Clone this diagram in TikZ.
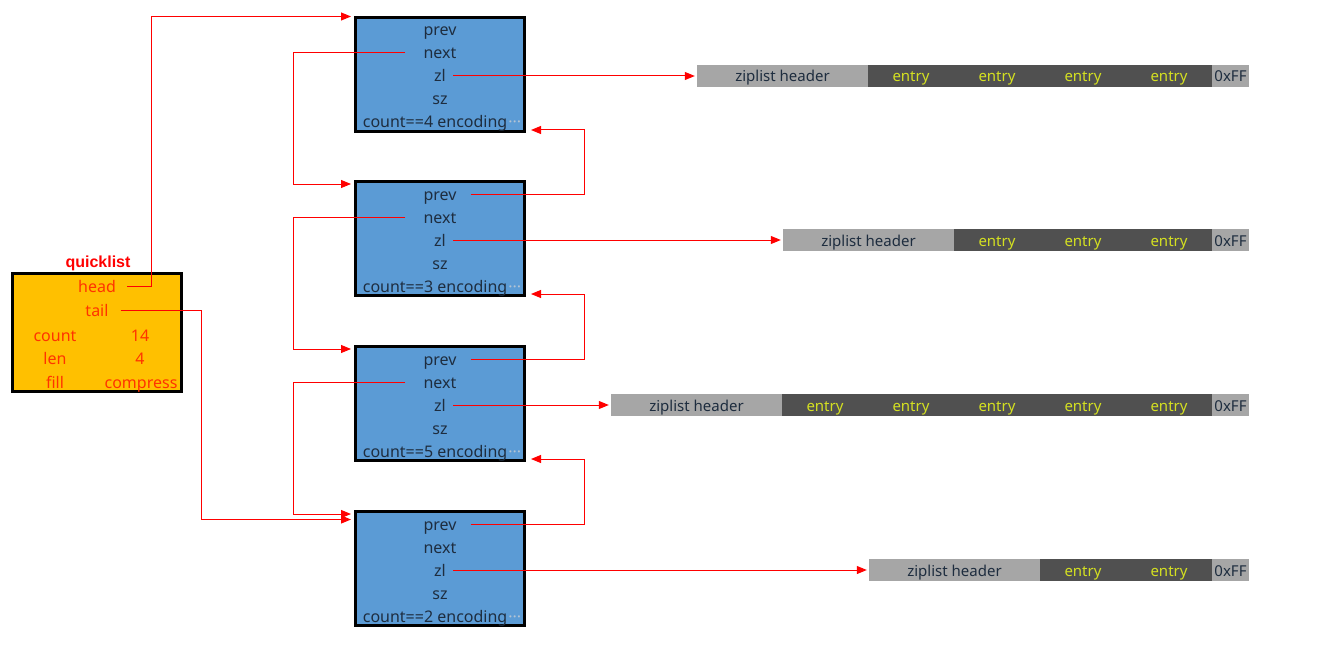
\documentclass[tikz,border=0pt]{standalone}
\usepackage{fontspec}
\setmainfont{Noto Sans}
\newfontfamily\titlefont{Liberation Sans}
\usetikzlibrary{arrows.meta}

\definecolor{nodeblue}{HTML}{5B9BD5}
\definecolor{qlorange}{HTML}{FFC000}
\definecolor{qltext}{HTML}{FF3300}
\definecolor{hdrgray}{HTML}{A6A6A6}
\definecolor{entgray}{HTML}{505050}
\definecolor{entyellow}{HTML}{D4E021}
\definecolor{rowtext}{HTML}{1E2D3F}
\definecolor{dotgray}{HTML}{B4C4D4}

\tikzset{
  qlbox/.style={draw=black, fill=qlorange, line width=3pt, minimum width=169pt, minimum height=118pt, inner sep=0pt},
  qltitle/.style={text=red, font=\titlefont\fontsize{16}{19}\selectfont\bfseries, inner sep=0pt},
  qlrow/.style={text=qltext, font=\fontsize{16}{19}\selectfont, text height=14pt, text depth=2pt, inner sep=0pt},
  box/.style={draw=black, fill=nodeblue, line width=3pt, minimum width=169pt, minimum height=114pt, inner sep=0pt},
  row/.style={text=rowtext, font=\fontsize{16}{19}\selectfont, text height=14pt, text depth=2pt, inner sep=0pt},
  bar/.style={minimum height=22pt, inner sep=0pt, font=\fontsize{15}{18}\selectfont, text height=13.5pt, text depth=1.5pt},
  hdr/.style={bar, fill=hdrgray, minimum width=171pt, text=rowtext},
  ent/.style={bar, fill=entgray, minimum width=86pt, text=entyellow},
  endb/.style={bar, fill=hdrgray, minimum width=37pt, text=rowtext},
  link/.style={draw=red, line width=1pt, -{Triangle[length=10pt,width=8pt]}}
}
\newcommand{\moredots}{\textcolor{dotgray}{\kern1pt···}}

\begin{document}
\begin{tikzpicture}[x=1pt,y=-1pt]
\useasboundingbox (0,0) rectangle (1317,650);

% quicklist header
\node[qlbox] (ql) at (97,332.5) {};
\node[qltitle] (qltitle) at (98,263) {quicklist};
\node[qlrow] (qhead) at (97,286) {head};
\node[qlrow] (qtail) at (97,310) {tail};
\node[qlrow] (qcount) at (55,335) {count};
\node[qlrow] (qcountv) at (140,335) {14};
\node[qlrow] (qlen) at (55,358) {len};
\node[qlrow] (qlenv) at (140,358) {4};
\node[qlrow] (qfill) at (55,382) {fill};
\node[qlrow] (qfillv) at (141,382) {compress};

% quicklistNode 1
\node[box] (n1) at (440,74.5) {};
\node[row] (n1prev) at (440,30) {prev};
\node[row] (n1next) at (440,53) {next};
\node[row] (n1zl) at (440,76) {zl};
\node[row] (n1sz) at (440,99) {sz};
\node[row] (n1cnt) at (442,122) {count==4 encoding\moredots};

% quicklistNode 2
\node[box] (n2) at (440,238.5) {};
\node[row] (n2prev) at (440,194) {prev};
\node[row] (n2next) at (440,217) {next};
\node[row] (n2zl) at (440,240) {zl};
\node[row] (n2sz) at (440,263) {sz};
\node[row] (n2cnt) at (442,286) {count==3 encoding\moredots};

% quicklistNode 3
\node[box] (n3) at (440,403.5) {};
\node[row] (n3prev) at (440,359) {prev};
\node[row] (n3next) at (440,382) {next};
\node[row] (n3zl) at (440,405) {zl};
\node[row] (n3sz) at (440,428) {sz};
\node[row] (n3cnt) at (442,451) {count==5 encoding\moredots};

% quicklistNode 4
\node[box] (n4) at (440,568.5) {};
\node[row] (n4prev) at (440,524) {prev};
\node[row] (n4next) at (440,547) {next};
\node[row] (n4zl) at (440,570) {zl};
\node[row] (n4sz) at (440,593) {sz};
\node[row] (n4cnt) at (442,616) {count==2 encoding\moredots};

% ziplist 1
\node[hdr] (z1h) at (782.5,76) {ziplist header};
\foreach \x [count=\k] in {911,997,1083,1169}
  \node[ent] (z1e\k) at (\x,76) {entry};
\node[endb] (z1end) at (1230.5,76) {0xFF};

% ziplist 2
\node[hdr] (z2h) at (868.5,240) {ziplist header};
\foreach \x [count=\k] in {997,1083,1169}
  \node[ent] (z2e\k) at (\x,240) {entry};
\node[endb] (z2end) at (1230.5,240) {0xFF};

% ziplist 3
\node[hdr] (z3h) at (696.5,405) {ziplist header};
\foreach \x [count=\k] in {825,911,997,1083,1169}
  \node[ent] (z3e\k) at (\x,405) {entry};
\node[endb] (z3end) at (1230.5,405) {0xFF};

% ziplist 4
\node[hdr] (z4h) at (954.5,570) {ziplist header};
\foreach \x [count=\k] in {1083,1169}
  \node[ent] (z4e\k) at (\x,570) {entry};
\node[endb] (z4end) at (1230.5,570) {0xFF};

% bus lines
\coordinate (hbus) at (151,0);
\coordinate (tbus) at (201,0);
\coordinate (nbus) at (293,0);
\coordinate (pbus) at (584,0);

% head / tail
\draw[link] ([xshift=11pt]qhead.east) -- (qhead -| hbus) |- ([xshift=-3pt,yshift=-0.5pt]n1.north west);
\draw[link] ([xshift=12pt]qtail.east) -- (qtail -| tbus) |- ([xshift=-3pt,yshift=-9.5pt]n4.north west);

% next pointers
\draw[link] ([xshift=-18pt]n1next.west) -- (n1next -| nbus) |- ([xshift=-3pt,yshift=-4pt]n2.north west);
\draw[link] ([xshift=-18pt]n2next.west) -- (n2next -| nbus) |- ([xshift=-3pt,yshift=-4pt]n3.north west);
\draw[link] ([xshift=-18pt]n3next.west) -- (n3next -| nbus) |- ([xshift=-3pt,yshift=-4pt]n4.north west);

% prev pointers
\draw[link] ([xshift=14pt]n2prev.east) -- (n2prev -| pbus) |- ([xshift=5pt,yshift=3pt]n1.south east);
\draw[link] ([xshift=14pt]n3prev.east) -- (n3prev -| pbus) |- ([xshift=5pt,yshift=3pt]n2.south east);
\draw[link] ([xshift=14pt]n4prev.east) -- (n4prev -| pbus) |- ([xshift=5pt,yshift=3pt]n3.south east);

% zl pointers
\draw[link] ([xshift=7pt]n1zl.east) -- ([xshift=-2pt]z1h.west);
\draw[link] ([xshift=7pt]n2zl.east) -- ([xshift=-2pt]z2h.west);
\draw[link] ([xshift=7pt]n3zl.east) -- ([xshift=-2pt]z3h.west);
\draw[link] ([xshift=7pt]n4zl.east) -- ([xshift=-2pt]z4h.west);
\end{tikzpicture}
\end{document}
